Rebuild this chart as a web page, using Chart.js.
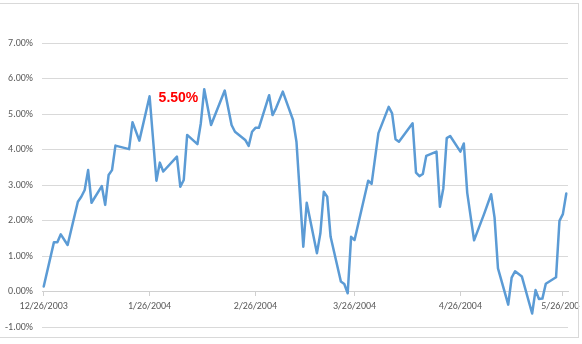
<!DOCTYPE html>
<html>
<head>
<meta charset="utf-8">
<script src="https://cdn.jsdelivr.net/npm/chart.js@4"></script>
<style>
  body { margin: 0; background: #fff; }
  #wrap { position: relative; width: 582px; height: 344px; overflow: hidden; }
  #frame { position: absolute; left: -1px; top: 3px; width: 580px; height: 335px; border: 1px solid #d9d9d9; box-sizing: border-box; pointer-events: none; }
  #returns-chart { position: absolute; left: 0; top: 0; }
</style>
</head>
<body>
<div id="wrap">
  <canvas id="returns-chart" width="580" height="344"></canvas>
  <div id="frame"></div>
</div>
<script>
// fechas (días hábiles) y rentabilidad en %
const dates = [
  '12/26/2003', '12/29/2003', '12/30/2003', '12/31/2003', '1/2/2004', '1/5/2004', '1/6/2004', '1/7/2004',
  '1/8/2004', '1/9/2004', '1/12/2004', '1/13/2004', '1/14/2004', '1/15/2004', '1/16/2004', '1/20/2004',
  '1/21/2004', '1/23/2004', '1/26/2004', '1/28/2004', '1/29/2004', '1/30/2004', '2/3/2004', '2/4/2004',
  '2/5/2004', '2/6/2004', '2/9/2004', '2/10/2004', '2/11/2004', '2/13/2004', '2/17/2004', '2/19/2004',
  '2/20/2004', '2/23/2004', '2/24/2004', '2/25/2004', '2/26/2004', '2/27/2004', '3/1/2004', '3/2/2004',
  '3/3/2004', '3/5/2004', '3/8/2004', '3/9/2004', '3/11/2004', '3/12/2004', '3/15/2004', '3/16/2004',
  '3/17/2004', '3/18/2004', '3/19/2004', '3/22/2004', '3/23/2004', '3/24/2004', '3/25/2004', '3/26/2004',
  '3/30/2004', '3/31/2004', '4/2/2004', '4/5/2004', '4/6/2004', '4/7/2004', '4/8/2004', '4/12/2004',
  '4/13/2004', '4/14/2004', '4/15/2004', '4/16/2004', '4/19/2004', '4/20/2004', '4/21/2004', '4/22/2004',
  '4/23/2004', '4/26/2004', '4/27/2004', '4/28/2004', '4/30/2004', '5/3/2004', '5/5/2004', '5/6/2004',
  '5/7/2004', '5/10/2004', '5/11/2004', '5/12/2004', '5/14/2004', '5/17/2004', '5/18/2004', '5/19/2004',
  '5/20/2004', '5/21/2004', '5/24/2004', '5/25/2004', '5/26/2004', '5/27/2004'
];
const returns = [
  0.14, 1.39, 1.39, 1.61, 1.31, 2.53, 2.67, 2.86,
  3.42, 2.50, 2.97, 2.44, 3.28, 3.42, 4.11, 4.01,
  4.77, 4.25, 5.50, 3.12, 3.63, 3.38, 3.80, 2.95,
  3.14, 4.41, 4.15, 4.74, 5.70, 4.69, 5.66, 4.69,
  4.50, 4.27, 4.10, 4.50, 4.61, 4.61, 5.53, 4.97,
  5.16, 5.63, 4.83, 4.22, 1.26, 2.50, 1.08, 1.64,
  2.81, 2.67, 1.54, 0.28, 0.21, -0.05, 1.54, 1.45,
  3.12, 3.03, 4.46, 5.20, 5.02, 4.29, 4.22, 4.74,
  3.35, 3.25, 3.31, 3.82, 3.94, 2.39, 2.91, 4.32,
  4.38, 3.94, 4.17, 2.78, 1.44, 2.20, 2.74, 2.08,
  0.65, -0.37, 0.39, 0.57, 0.42, -0.62, 0.04, -0.21,
  -0.20, 0.22, 0.40, 1.99, 2.18, 2.76
];
const tickLabels = ['12/26/2003', '1/26/2004', '2/26/2004', '3/26/2004', '4/26/2004', '5/26/2004'];
const yTicks = [-1, 0, 1, 2, 3, 4, 5, 6, 7];
const highlightDate = '1/26/2004';

const DAY = 86400000;
function toUTC(s) {
    const [m, d, y] = s.split('/').map(Number);
    return Date.UTC(y, m - 1, d);
}
const origin = toUTC(dates[0]);
function dayIndex(s) {
    return Math.round((toUTC(s) - origin) / DAY);
}
const tickDays = tickLabels.map(dayIndex);
const points = dates.map((d, i) => ({x: dayIndex(d), y: returns[i]}));
const lastDay = dayIndex(dates[dates.length - 1]);

const axisFont = {family: "Calibri, Carlito, 'Liberation Sans', sans-serif", size: 10};

// etiqueta roja junto al punto destacado
const highlightLabel = {
    id: 'highlightLabel',
    afterDatasetsDraw(chart) {
        const idx = dates.indexOf(highlightDate);
        const x = chart.scales.x.getPixelForValue(points[idx].x);
        const y = chart.scales.y.getPixelForValue(points[idx].y);
        const ctx = chart.ctx;
        ctx.save();
        ctx.font = "bold 14px 'Liberation Sans', Arial, sans-serif";
        ctx.fillStyle = '#FF0000';
        ctx.textAlign = 'left';
        ctx.textBaseline = 'middle';
        ctx.fillText(returns[idx].toFixed(2) + '%', x + 9, y + 2);
        ctx.restore();
    }
};

const config = {
    type: 'line',
    data: {
        datasets: [{
            label: 'Rentabilidad',
            data: points,
            borderColor: '#5B9BD5',
            borderWidth: 2.5,
            borderJoinStyle: 'round',
            borderCapStyle: 'round',
            pointRadius: 0,
            tension: 0,
            fill: false
        }]
    },
    options: {
        responsive: false,
        animation: false,
        devicePixelRatio: 1,
        layout: {padding: {top: 43, bottom: 17, left: 0, right: 12}},
        plugins: {
            legend: {display: false},
            tooltip: {enabled: false}
        },
        scales: {
            x: {
                type: 'linear',
                position: {y: 0},
                min: -0.5,
                max: lastDay + 0.5,
                afterBuildTicks: (scale) => {
                    scale.ticks = tickDays.map(v => ({value: v}));
                },
                afterFit: (scale) => {
                    scale.paddingLeft = 0;
                    scale.paddingRight = 0;
                },
                grid: {
                    drawOnChartArea: false,
                    drawTicks: true,
                    tickLength: 4,
                    color: '#d0d0d0'
                },
                border: {display: true, color: '#d0d0d0', width: 1},
                ticks: {
                    autoSkip: false,
                    maxRotation: 0,
                    padding: 5,
                    color: '#595959',
                    font: axisFont,
                    callback: (v) => tickLabels[tickDays.indexOf(v)]
                }
            },
            y: {
                min: yTicks[0],
                max: yTicks[yTicks.length - 1],
                afterBuildTicks: (scale) => {
                    scale.ticks = yTicks.map(v => ({value: v}));
                },
                afterFit: (scale) => {
                    scale.width = 42;
                    scale.paddingTop = 0;
                    scale.paddingBottom = 0;
                },
                grid: {color: '#d9d9d9', lineWidth: 1, drawTicks: false},
                border: {display: false},
                ticks: {
                    padding: 9,
                    color: '#595959',
                    font: axisFont,
                    callback: (v) => v.toFixed(2) + '%'
                }
            }
        }
    },
    plugins: [highlightLabel]
};

const ctx = document.getElementById('returns-chart').getContext('2d');
new Chart(ctx, config);
</script>
</body>
</html>
